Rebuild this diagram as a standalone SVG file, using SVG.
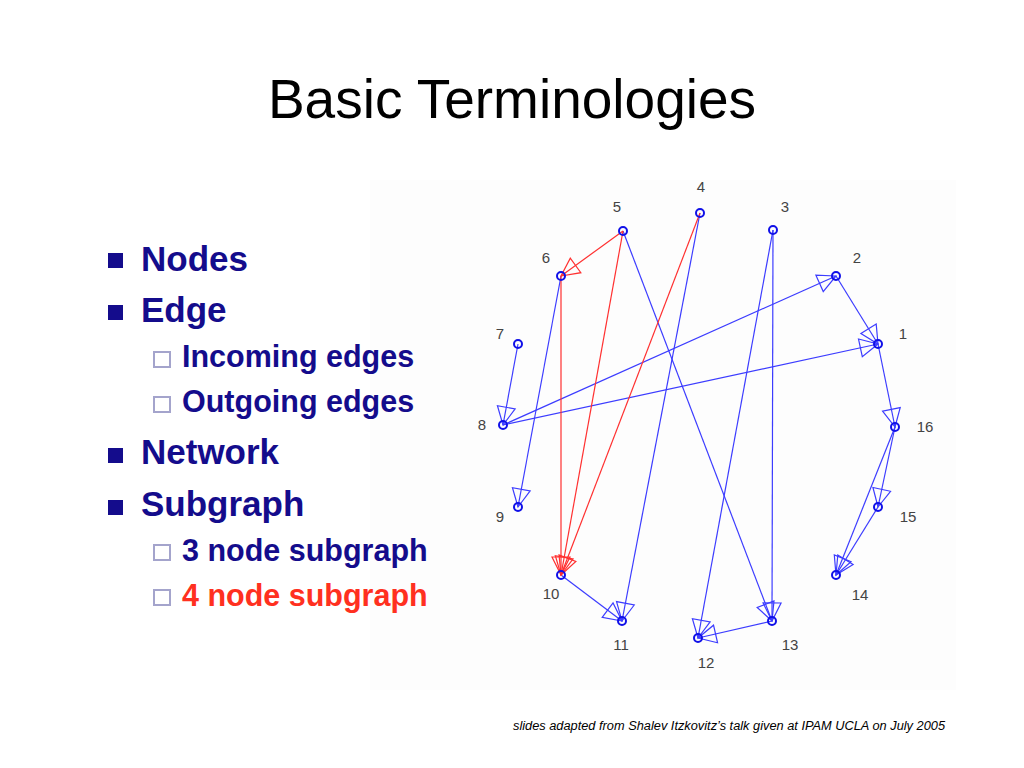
<svg xmlns="http://www.w3.org/2000/svg" width="1024" height="768" viewBox="0 0 1024 768">
<style>
.title{font-family:"Liberation Sans",Arial,sans-serif;font-size:55px;fill:#000}
.b1{font-family:"Liberation Sans",Arial,sans-serif;font-weight:bold;font-size:35px;fill:#140c8c}
.b2{font-family:"Liberation Sans",Arial,sans-serif;font-weight:bold;font-size:30.5px;fill:#140c8c}
.red{fill:#ff3020}
.sq{fill:#140c8c}
.hsq{fill:none;stroke:#a4a4cc;stroke-width:2}
.lbl{font-family:"Liberation Sans",Arial,sans-serif;font-size:15px;fill:#444;text-anchor:middle}
.eb{stroke:#3c3cff;stroke-width:1.2;fill:none;marker-end:url(#ab)}
.er{stroke:#ff3030;stroke-width:1.2;fill:none;marker-end:url(#ar)}
.nd{fill:none;stroke:#1010e8;stroke-width:2}
.foot{font-family:"Liberation Sans",Arial,sans-serif;font-style:italic;font-size:12px;fill:#000}
</style>
<defs>
<marker id="ab" markerUnits="userSpaceOnUse" markerWidth="22" markerHeight="22" viewBox="-20 -10 22 20" refX="0" refY="0" orient="auto">
<path d="M0,0 L-18,-9 L-18,9 Z" fill="none" stroke="#3c3cff" stroke-width="1.2"/>
</marker>
<marker id="ar" markerUnits="userSpaceOnUse" markerWidth="22" markerHeight="22" viewBox="-20 -10 22 20" refX="0" refY="0" orient="auto">
<path d="M0,0 L-18,-9 L-18,9 Z" fill="none" stroke="#ff3030" stroke-width="1.2"/>
</marker>
</defs>
<rect width="1024" height="768" fill="#fff"/>
<rect x="370" y="180" width="586" height="510" fill="#fdfdfd"/>
<text class="title" x="512" y="118" text-anchor="middle">Basic Terminologies</text>

<g id="bullets">
<rect class="sq" x="108" y="253" width="15" height="15"/>
<text class="b1" x="141" y="271">Nodes</text>
<rect class="sq" x="108" y="305" width="15" height="15"/>
<text class="b1" x="141" y="322">Edge</text>
<rect class="hsq" x="154" y="352" width="16" height="15"/>
<text class="b2" x="182" y="367">Incoming edges</text>
<rect class="hsq" x="154" y="397" width="16" height="15"/>
<text class="b2" x="182" y="412">Outgoing edges</text>
<rect class="sq" x="108" y="448" width="15" height="15"/>
<text class="b1" x="141" y="464">Network</text>
<rect class="sq" x="108" y="500" width="15" height="15"/>
<text class="b1" x="141" y="516">Subgraph</text>
<rect class="hsq" x="154" y="545" width="16" height="15"/>
<text class="b2" x="182" y="561">3 node subgraph</text>
<rect class="hsq" x="154" y="590" width="16" height="15"/>
<text class="b2 red" x="182" y="606">4 node subgraph</text>
</g>

<g id="connectors">
<line class="eb" x1="623" y1="231" x2="772" y2="621"/>
<line class="eb" x1="700" y1="213" x2="622" y2="621"/>
<line class="eb" x1="773" y1="230" x2="772" y2="621"/>
<line class="eb" x1="773" y1="230" x2="698" y2="638"/>
<line class="eb" x1="836" y1="276" x2="878" y2="344"/>
<line class="eb" x1="503" y1="425" x2="836" y2="276"/>
<line class="eb" x1="503" y1="425" x2="878" y2="344"/>
<line class="eb" x1="878" y1="344" x2="895" y2="427"/>
<line class="eb" x1="895" y1="427" x2="878" y2="507"/>
<line class="eb" x1="895" y1="427" x2="836" y2="575"/>
<line class="eb" x1="878" y1="507" x2="836" y2="575"/>
<line class="eb" x1="518" y1="344" x2="503" y2="425"/>
<line class="eb" x1="561" y1="276" x2="518" y2="507"/>
<line class="eb" x1="561" y1="575" x2="622" y2="621"/>
<line class="eb" x1="772" y1="621" x2="698" y2="638"/>
<line class="er" x1="623" y1="231" x2="561" y2="276"/>
<line class="er" x1="623" y1="231" x2="561" y2="575"/>
<line class="er" x1="700" y1="213" x2="561" y2="575"/>
<line class="er" x1="561" y1="276" x2="561" y2="575"/>
</g>

<g id="n1"><circle class="nd" cx="878" cy="344" r="4"/><text class="lbl" x="903" y="339">1</text></g>
<g id="n2"><circle class="nd" cx="836" cy="276" r="4"/><text class="lbl" x="857" y="263">2</text></g>
<g id="n3"><circle class="nd" cx="773" cy="230" r="4"/><text class="lbl" x="785" y="212">3</text></g>
<g id="n4"><circle class="nd" cx="700" cy="213" r="4"/><text class="lbl" x="701" y="192">4</text></g>
<g id="n5"><circle class="nd" cx="623" cy="231" r="4"/><text class="lbl" x="617" y="212">5</text></g>
<g id="n6"><circle class="nd" cx="561" cy="276" r="4"/><text class="lbl" x="546" y="263">6</text></g>
<g id="n7"><circle class="nd" cx="518" cy="344" r="4"/><text class="lbl" x="500" y="339">7</text></g>
<g id="n8"><circle class="nd" cx="503" cy="425" r="4"/><text class="lbl" x="482" y="430">8</text></g>
<g id="n9"><circle class="nd" cx="518" cy="507" r="4"/><text class="lbl" x="500" y="522">9</text></g>
<g id="n10"><circle class="nd" cx="561" cy="575" r="4"/><text class="lbl" x="551" y="599">10</text></g>
<g id="n11"><circle class="nd" cx="622" cy="621" r="4"/><text class="lbl" x="621" y="650">11</text></g>
<g id="n12"><circle class="nd" cx="698" cy="638" r="4"/><text class="lbl" x="706" y="668">12</text></g>
<g id="n13"><circle class="nd" cx="772" cy="621" r="4"/><text class="lbl" x="790" y="650">13</text></g>
<g id="n14"><circle class="nd" cx="836" cy="575" r="4"/><text class="lbl" x="860" y="600">14</text></g>
<g id="n15"><circle class="nd" cx="878" cy="507" r="4"/><text class="lbl" x="908" y="522">15</text></g>
<g id="n16"><circle class="nd" cx="895" cy="427" r="4"/><text class="lbl" x="925" y="432">16</text></g>

<text class="foot" x="513" y="730" textLength="432" lengthAdjust="spacingAndGlyphs">slides adapted from  Shalev Itzkovitz’s talk given at IPAM UCLA on July 2005</text>
</svg>
